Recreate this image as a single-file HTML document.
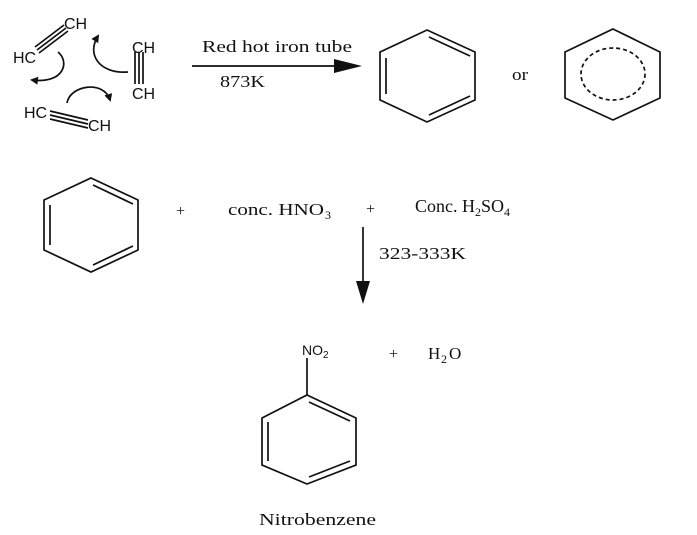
<!DOCTYPE html>
<html><head><style>
html,body{margin:0;padding:0;background:#fff;}
svg{display:block;}
text{font-family:"Liberation Serif",serif;fill:#111;}
.s{font-family:"Liberation Sans",sans-serif;}
</style></head><body>
<svg width="697" height="535" viewBox="0 0 697 535" xmlns="http://www.w3.org/2000/svg">
<defs>
<marker id="ah" markerWidth="8" markerHeight="8" refX="6" refY="4" orient="auto" markerUnits="userSpaceOnUse"><path d="M0,0 L8,4 L0,8 Z" fill="#111"/></marker>
</defs>
<g stroke="#111" stroke-width="1.7" fill="none">
<line x1="37" y1="50" x2="66" y2="28"/><line x1="35" y1="47" x2="64" y2="25"/><line x1="39" y1="53" x2="68" y2="31"/>
<line x1="135" y1="52" x2="135" y2="84"/><line x1="139" y1="52" x2="139" y2="84"/><line x1="143" y1="52" x2="143" y2="84"/>
<line x1="50" y1="111" x2="88" y2="120"/><line x1="50" y1="115" x2="88" y2="124"/><line x1="50" y1="119" x2="88" y2="128"/>
<path d="M58,52 C70,62 64,84 32,80" marker-end="url(#ah)"/>
<path d="M128,72 C100,74 86,55 98,36" marker-end="url(#ah)"/>
<path d="M67,103 C70,85 104,80 110,100" marker-end="url(#ah)"/>
<line x1="192" y1="66" x2="338" y2="66"/>
<polygon points="427,30 475,52 475,100 427,122 380,100 380,52"/>
<line x1="429" y1="37" x2="470" y2="56"/><line x1="429" y1="115" x2="470" y2="96"/><line x1="386" y1="58" x2="386" y2="94"/>
<polygon points="613,29 660,52 660,98 613,120 565,98 565,52"/>
<ellipse cx="613" cy="74" rx="32" ry="26" stroke-dasharray="4,3"/>
<polygon points="91,178 138,200 138,250 91,272 44,250 44,200"/>
<line x1="93" y1="185" x2="133" y2="204"/><line x1="93" y1="265" x2="133" y2="246"/><line x1="50" y1="205" x2="50" y2="245"/>
<line x1="363" y1="227" x2="363" y2="284"/>
<line x1="307" y1="358" x2="307" y2="395"/>
<polygon points="307,395 356,418 356,465 307,484 262,465 262,418"/>
<line x1="309" y1="402" x2="350" y2="421"/><line x1="309" y1="477" x2="350" y2="461"/><line x1="268" y1="422" x2="268" y2="461"/>
</g>
<polygon points="334,59 362,66 334,73" fill="#111"/>
<polygon points="356,281 370,281 363,304" fill="#111"/>
<g font-size="16">
<text class="s" x="64" y="29">CH</text>
<text class="s" x="13" y="63">HC</text>
<text class="s" x="132" y="53">CH</text>
<text class="s" x="132" y="99">CH</text>
<text class="s" x="24" y="118">HC</text>
<text class="s" x="88" y="131">CH</text>
</g>
<text x="202" y="52" font-size="17" textLength="150" lengthAdjust="spacingAndGlyphs">Red hot iron tube</text>
<text x="220" y="87" font-size="17" textLength="45" lengthAdjust="spacingAndGlyphs">873K</text>
<text x="512" y="80" font-size="17" textLength="16" lengthAdjust="spacingAndGlyphs">or</text>
<text x="176" y="216" font-size="16">+</text>
<text x="228" y="215" font-size="17" textLength="96" lengthAdjust="spacingAndGlyphs">conc. HNO</text><text x="325" y="219" font-size="12">3</text>
<text x="366" y="214" font-size="16">+</text>
<text x="415" y="212" font-size="18">Conc. H<tspan font-size="12" dy="4">2</tspan><tspan dy="-4">SO</tspan><tspan font-size="12" dy="4">4</tspan></text>
<text x="379" y="259" font-size="17" textLength="87" lengthAdjust="spacingAndGlyphs">323-333K</text>
<text class="s" x="302" y="355" font-size="14">NO<tspan font-size="10" dy="3">2</tspan></text>
<text x="389" y="359" font-size="16">+</text>
<text x="428" y="359" font-size="17">H</text><text x="441" y="363" font-size="12">2</text><text x="449" y="359" font-size="17">O</text>
<text x="259" y="525" font-size="17" textLength="117" lengthAdjust="spacingAndGlyphs">Nitrobenzene</text>
</svg>
</body></html>
